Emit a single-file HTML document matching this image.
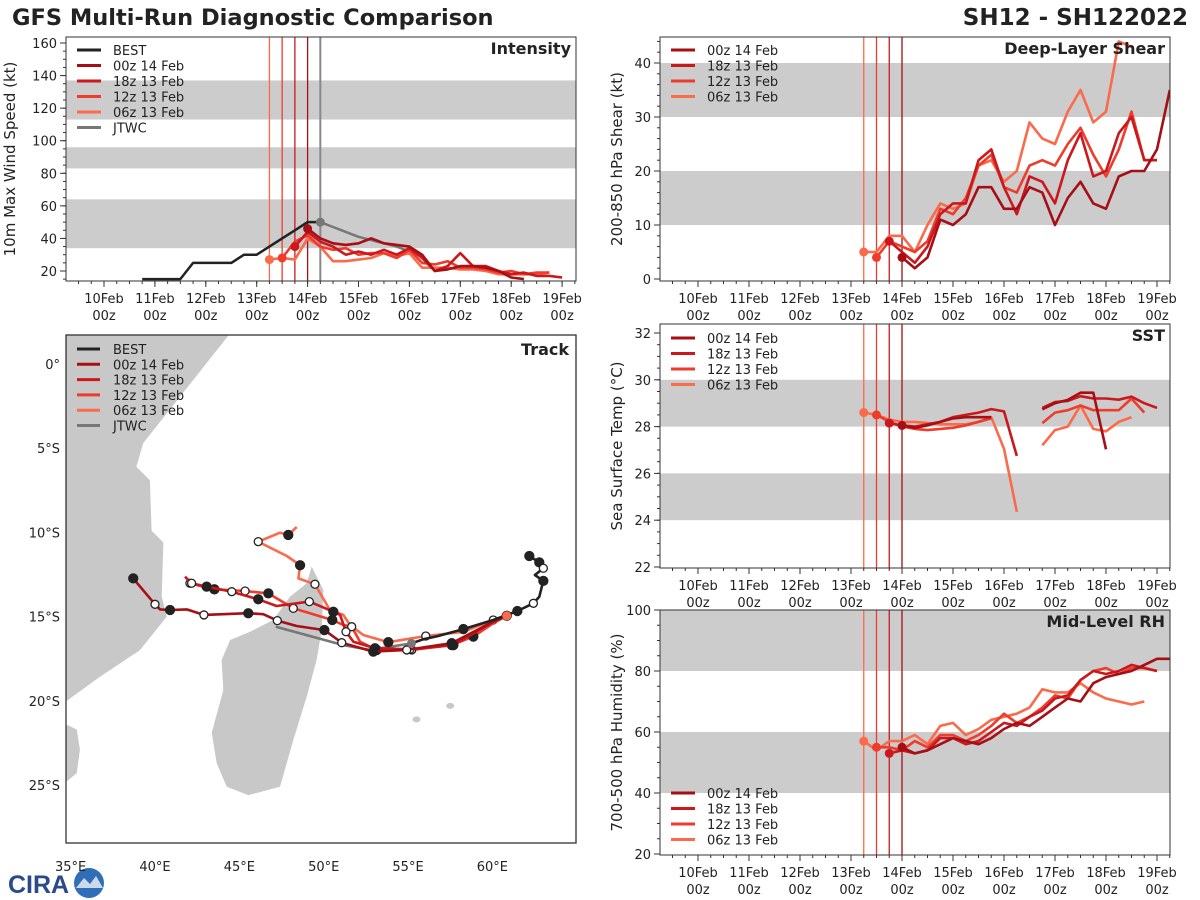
<!DOCTYPE html>
<html><head><meta charset="utf-8"><style>
html,body{margin:0;padding:0;background:#fff;}
svg{display:block;font-family:"DejaVu Sans","Liberation Sans",sans-serif;}
</style></head><body>
<svg id="fig" width="1200" height="900" viewBox="0 0 1200 900" xmlns="http://www.w3.org/2000/svg">
<text x="12" y="25" font-size="22.5" font-weight="bold" fill="#222">GFS Multi-Run Diagnostic Comparison</text>
<text x="1188" y="25" font-size="23" font-weight="bold" fill="#222" text-anchor="end">SH12 - SH122022</text>
<g>
<text x="8" y="893" font-size="25" font-weight="bold" fill="#2a4a8a" font-family="Liberation Sans, sans-serif">CIRA</text>
<circle cx="89" cy="883" r="15" fill="#2e6fb8"/>
<path d="M76 888 L84 878 L90 884 L96 876 L103 888 Z" fill="#cfd8ea"/>
</g>
</svg>
<script>
const NS='http://www.w3.org/2000/svg';
const svg=document.getElementById('fig');
function mk(tag,attrs,parent){const e=document.createElementNS(NS,tag);for(const k in attrs)e.setAttribute(k,attrs[k]);(parent||svg).appendChild(e);return e;}

// ---------- DATA ----------
const runNames=['00z 14 Feb','18z 13 Feb','12z 13 Feb','06z 13 Feb'];
const runColors=['#a50f15','#cb181d','#ef3b2c','#fb6a4a'];
const runStarts=[14.0,13.75,13.5,13.25];
const dayTicks=['10Feb','11Feb','12Feb','13Feb','14Feb','15Feb','16Feb','17Feb','18Feb','19Feb'];

const bestStart=10.75;
const bestVmax=[15,15,15,15,25,25,25,25,30,30,35,40,45,50,50];
const jtwcStart=14.25;
const jtwcVmax=[50,47,44,41,39,37,35,32,30];
const vmax00z14=[46,40,37,36,37,40,37,36,35,30,20,21,23,23,22,20,16,15];
const vmax18z13=[35,44,38,35,30,32,30,33,30,34,28,20,23,31,23,23,20,18,19,17,17,16];
const vmax12z13=[28,38,42,35,33,34,30,31,31,28,33,25,24,26,22,22,21,19,20,18,19,19];
const vmax06z13=[27,28,27,40,35,26,26,27,28,31,29,31,22,22,22,21,21,20,18,18,18,18,19];

const shear00z14=[4,2,4,11,10,12,17,17,13,13,17,16,10,15,18,14,13,19,20,20,24,35];
const shear18z13=[7,5,3,6,12,14,14,22,24,17,12,19,18,14,22,27,19,20,27,30,22,22];
const shear12z13=[4,7,6,5,7,13,12,15,21,23,17,16,21,22,21,25,28,23,19,24,31,22,22];
const shear06z13=[5,5,8,8,5,10,14,13,14,21,22,18,20,29,26,25,31,35,29,31,44,43];

const sst00z14=[28.05,27.95,28.05,28.2,28.35,28.4,28.4,28.4,null,null,null,28.74,29.0,29.14,29.45,29.45,27.03];
const sst18z13=[28.15,28.05,28.0,28.1,28.2,28.4,28.5,28.6,28.75,28.65,26.75,null,28.8,29.05,29.1,29.3,29.2,29.2,29.15,29.28,29.0,28.8];
const sst12z13=[28.5,28.2,28.0,27.9,27.85,27.9,27.95,28.05,28.2,28.35,null,null,null,28.15,28.6,28.7,28.9,28.7,28.7,28.7,29.2,28.6];
const sst06z13=[28.6,28.5,28.3,28.2,28.2,28.15,28.1,28.1,28.1,28.2,28.4,27.05,24.36,null,27.2,27.85,28.0,28.9,27.9,27.8,28.2,28.4];

const rh00z14=[55,53,54,56,58,57,56,58,61,63,62,65,68,71,70,76,78,79,80,82,84,84,81].slice(0,21).concat([84,81]).slice(0,22);
const rh18z13=[53,54,53,54,58,58,56,57,60,63,62,65,67,71,72,77,80,79,80,82,81,80];
const rh12z13=[55,55,54,57,55,59,59,57,59,62,66,63,65,68,72,71,77,80,81,79,81,81,80];
const rh06z13=[57,54,57,57,59,56,62,63,59,61,64,65,66,68,74,73,73,76,73,71,70,69,70];

const bestLon=[62.19,62.78,63.02,62.52,63.02,62.78,62.43,61.48,60.05,58.28,56.79,55.9,55.2];
const bestLat=[-11.40,-11.78,-12.13,-12.53,-12.88,-13.82,-14.21,-14.67,-15.20,-15.74,-16.15,-16.35,-16.59];
const bestMk=['f','f','o','','f','','o','f','','f','','',''];
const jtwcLon=[55.2,52.74,51.16,47.16];
const jtwcLat=[-16.59,-16.98,-16.69,-15.6];
const trk00Lon=[60.85,59.86,57.59,54.92,52.94,51.07,50.04,48.40,47.25,46.42,45.53,42.90,41.88,40.89,40.30,40.0,38.71];
const trk00Lat=[-14.95,-15.40,-16.58,-16.98,-17.08,-16.55,-15.80,-15.56,-15.24,-14.86,-14.80,-14.90,-14.57,-14.61,-14.57,-14.27,-12.73];
const trk00Mk=['','','f','o','f','o','f','','o','','f','o','','f','','o','f'];
const trk18Lon=[60.85,60.05,57.69,55.12,53.04,51.76,51.32,50.97,50.57,49.15,47.21,46.12,44.55,43.06,42.17,41.78];
const trk18Lat=[-14.95,-15.30,-16.69,-16.94,-16.88,-16.49,-15.90,-14.90,-14.71,-14.11,-14.37,-13.97,-13.52,-13.22,-13.02,-12.63];
const trk18Mk=['','','f','o','f','','o','','f','o','','f','o','f','o',''];
const trk12Lon=[60.85,60.05,58.87,57.59,55.22,53.14,52.15,51.66,51.16,50.51,48.20,46.72,45.34,43.52,42.07];
const trk12Lat=[-14.95,-15.40,-16.19,-16.69,-16.98,-16.98,-16.49,-15.60,-15.50,-15.20,-14.51,-13.62,-13.48,-13.38,-13.02];
const trk12Mk=['','','f','f','o','f','','o','','f','o','f','o','f','o'];
const trk06Lon=[60.85,60.05,58.28,56.05,53.83,52.35,51.56,51.16,50.37,49.48,48.50,48.60,47.81,46.12,47.41,47.90,48.40];
const trk06Lat=[-14.95,-15.20,-15.90,-16.15,-16.52,-16.09,-15.50,-14.90,-14.61,-13.08,-12.73,-11.95,-11.40,-10.55,-10.02,-10.15,-9.68];
const trk06Mk=['f','o','','o','f','','','','','o','','f','','o','','f',''];

const africaLon=[34.5,44.6,39.3,38.9,39.7,39.8,40.5,40.4,40.7,39.1,36.7,34.5];
const africaLat=[2.0,2.0,-4.7,-6.1,-6.9,-9.9,-10.6,-13.8,-15.0,-17.0,-18.6,-20.2];
const mozLon=[34.5,35.36,35.55,35.36,34.5];
const mozLat=[-21.3,-21.7,-22.9,-24.3,-25.0];
const madLon=[49.29,49.98,49.88,49.58,48.99,48.2,47.41,45.53,44.25,43.66,43.36,44.05,43.95,44.45,45.63,47.01,48.0,48.99];
const madLat=[-12.04,-13.42,-15.8,-17.58,-19.76,-22.33,-25.1,-25.6,-25.1,-23.7,-21.9,-19.36,-17.58,-16.39,-15.9,-15.2,-13.82,-13.02];
const islandLon=[55.5,57.5];
const islandLat=[-21.1,-20.3];

// ---------- TIME PANELS ----------
function timePanel(cfg){
  const g=mk('g',{});
  
  
  const X=d=>cfg.xd0+(d-10)*cfg.xs;
  const Y=cfg.Y;
  const defs=mk('defs',{},g);
  const cp=mk('clipPath',{id:cfg.name+'-clip'},defs);
  mk('rect',{x:cfg.x0,y:cfg.y0,width:cfg.x1-cfg.x0,height:cfg.y1-cfg.y0},cp);
  const pg=mk('g',{'clip-path':'url(#'+cfg.name+'-clip)'},g);
  for(const b of cfg.bands){
    const r=mk('rect',{x:cfg.x0,y:Y(b[1]),width:cfg.x1-cfg.x0,height:Y(b[0])-Y(b[1]),fill:'#cccccc'},pg);
    
    
  }
  for(let i=3;i>=0;i--){
    const l=mk('line',{x1:X(runStarts[i]),x2:X(runStarts[i]),y1:cfg.y0,y2:cfg.y1,stroke:runColors[i],'stroke-width':1.3},pg);
    
    
  }
  if(cfg.jtwc){
    const l=mk('line',{x1:X(jtwcStart),x2:X(jtwcStart),y1:cfg.y0,y2:cfg.y1,stroke:'#888','stroke-width':2},pg);
    
    
  }
  const series=cfg.series;
  function drawLine(start,vals,color,w,nm){
    let d='';let pen=false;
    vals.forEach((v,i)=>{if(v===null){pen=false;return;}d+=(pen?'L':'M')+X(start+i*0.25).toFixed(1)+' '+Y(v).toFixed(1)+' ';pen=true;});
    const p=mk('path',{d:d,fill:'none',stroke:color,'stroke-width':w,'stroke-linejoin':'round'},pg);
    
    
  }
  if(cfg.best){drawLine(bestStart,bestVmax,'#222',2.5,'best-line');}
  if(cfg.jtwc){drawLine(jtwcStart,jtwcVmax,'#777',2.5,'jtwc-line');
    const c=mk('circle',{cx:X(jtwcStart),cy:Y(jtwcVmax[0]),r:4.5,fill:'#777'},pg);
    
    }
  for(let i=3;i>=0;i--){drawLine(runStarts[i],series[i],runColors[i],2.6,'series-'+runNames[i].replace(/ /g,'-').toLowerCase());}
  for(let i=3;i>=0;i--){
    const c=mk('circle',{cx:X(runStarts[i]),cy:Y(series[i][0]),r:4.5,fill:runColors[i]},pg);
    
    
  }
  mk('rect',{x:cfg.x0,y:cfg.y0,width:cfg.x1-cfg.x0,height:cfg.y1-cfg.y0,fill:'none',stroke:'#333','stroke-width':1},g);
  for(let v=cfg.ymin;v<=cfg.ymax+1e-6;v+=cfg.minor){
    mk('line',{x1:cfg.x0-3,x2:cfg.x0,y1:Y(v),y2:Y(v),stroke:'#333'},g);
  }
  cfg.yticks.forEach(v=>{
    mk('line',{x1:cfg.x0-6,x2:cfg.x0,y1:Y(v),y2:Y(v),stroke:'#333'},g);
    const t=mk('text',{x:cfg.x0-9,y:Y(v)+5,'font-size':13,'text-anchor':'end',fill:'#222'},g);
    t.textContent=v;
    
    
  });
  for(let d=9.5;d<=19.3;d+=0.25){const x=X(d);if(x<cfg.x0||x>cfg.x1)continue;
    mk('line',{x1:x,x2:x,y1:cfg.y1,y2:cfg.y1+3,stroke:'#333'},g);}
  dayTicks.forEach((lab,i)=>{const x=X(10+i);
    mk('line',{x1:x,x2:x,y1:cfg.y1,y2:cfg.y1+6,stroke:'#333'},g);
    const t=mk('text',{x:x,y:cfg.y1+22,'font-size':13,'text-anchor':'middle',fill:'#222'},g);
    t.textContent=lab;
    
    
    const t2=mk('text',{x:x,y:cfg.y1+39,'font-size':13,'text-anchor':'middle',fill:'#222'},g);
    t2.textContent='00z';
  });
  const yt=mk('text',{transform:`translate(${cfg.ytx},${(cfg.y0+cfg.y1)/2}) rotate(-90)`,'font-size':15,'text-anchor':'middle',fill:'#222'},g);
  yt.textContent=cfg.ylabel;
  
  
  const tt=mk('text',{x:cfg.x1-5,y:cfg.y0+17,'font-size':16,'font-weight':'bold','text-anchor':'end',fill:'#222'},g);
  tt.textContent=cfg.title;
  
  
  const entries=[];
  if(cfg.best)entries.push(['BEST','#222']);
  for(let i=0;i<4;i++)entries.push([runNames[i],runColors[i]]);
  if(cfg.jtwc)entries.push(['JTWC','#777']);
  entries.forEach((e,i)=>{
    const ly=cfg.legY+i*15.5;
    const lg=mk('g',{},g);
    
    
    mk('line',{x1:cfg.x0+11,x2:cfg.x0+35,y1:ly,y2:ly,stroke:e[1],'stroke-width':3},lg);
    const t=mk('text',{x:cfg.x0+47,y:ly+5,'font-size':13,fill:'#222'},lg);
    t.textContent=e[0];
  });
}

timePanel({name:'intensity-panel',title:'Intensity',x0:66,x1:576,y0:37,y1:281,xd0:104,xs:50.9,
  Y:v=>271-(v-20)*1.6286,ymin:15,ymax:160,minor:5,yticks:[20,40,60,80,100,120,140,160],
  bands:[[34,64],[83,96],[113,137]],series:[vmax00z14,vmax18z13,vmax12z13,vmax06z13],
  best:true,jtwc:true,ylabel:'10m Max Wind Speed (kt)',ytx:15,legY:50});
timePanel({name:'shear-panel',title:'Deep-Layer Shear',x0:660,x1:1170,y0:37,y1:281,xd0:698,xs:51,
  Y:v=>279-v*5.4,ymin:0,ymax:44,minor:2,yticks:[0,10,20,30,40],
  bands:[[10,20],[30,40]],series:[shear00z14,shear18z13,shear12z13,shear06z13],
  ylabel:'200-850 hPa Shear (kt)',ytx:622,legY:50});
timePanel({name:'sst-panel',title:'SST',x0:660,x1:1170,y0:324,y1:568,xd0:698,xs:51,
  Y:v=>333+(32-v)*23.4,ymin:22,ymax:32,minor:0.5,yticks:[22,24,26,28,30,32],
  bands:[[24,26],[28,30]],series:[sst00z14,sst18z13,sst12z13,sst06z13],
  ylabel:'Sea Surface Temp (°C)',ytx:622,legY:338});
timePanel({name:'rh-panel',title:'Mid-Level RH',x0:660,x1:1170,y0:610,y1:855,xd0:698,xs:51,
  Y:v=>610+(100-v)*3.05,ymin:20,ymax:100,minor:5,yticks:[20,40,60,80,100],
  bands:[[40,60],[80,100]],series:[rh00z14,rh18z13,rh12z13,rh06z13],
  ylabel:'700-500 hPa Humidity (%)',ytx:622,legY:793});

// ---------- TRACK MAP ----------
(function(){
  const g=mk('g',{});
  
  
  const X=lon=>155+(lon-40)*16.87, Y=lat=>364-lat*16.84;
  const defs=mk('defs',{},g);
  const cp=mk('clipPath',{id:'mapclip'},defs);
  mk('rect',{x:66,y:335,width:510,height:508},cp);
  const inner=mk('g',{'clip-path':'url(#mapclip)'},g);
  function poly(lons,lats,nm){
    const p=mk('polygon',{points:lons.map((l,i)=>X(l).toFixed(1)+','+Y(lats[i]).toFixed(1)).join(' '),fill:'#c8c8c8'},inner);
    
    
  }
  poly(africaLon,africaLat,'africa-land');
  poly(mozLon,mozLat,'mozambique-land');
  poly(madLon,madLat,'madagascar-land');
  islandLon.forEach((l,i)=>{const c=mk('ellipse',{cx:X(l),cy:Y(islandLat[i]),rx:4,ry:3,fill:'#c8c8c8'},inner);
    
    });
  function track(lons,lats,mks,color,nm){
    const p=mk('polyline',{points:lons.map((l,i)=>X(l).toFixed(1)+','+Y(lats[i]).toFixed(1)).join(' '),fill:'none',stroke:color,'stroke-width':2.6,'stroke-linejoin':'round'},inner);
    
    
    if(mks)mks.forEach((m,i)=>{if(!m)return;
      const c=mk('circle',{cx:X(lons[i]),cy:Y(lats[i]),r:m==='f'?4.5:4,fill:m==='f'?'#222':'#fff',stroke:'#222','stroke-width':1.3},inner);
      
      });
  }
  track(jtwcLon,jtwcLat,null,'#777','jtwc-track');
  track(trk06Lon,trk06Lat,trk06Mk,runColors[3],'track-06z-13-feb');
  track(trk12Lon,trk12Lat,trk12Mk,runColors[2],'track-12z-13-feb');
  track(trk18Lon,trk18Lat,trk18Mk,runColors[1],'track-18z-13-feb');
  track(trk00Lon,trk00Lat,trk00Mk,runColors[0],'track-00z-14-feb');
  track(bestLon,bestLat,bestMk,'#222','best-track');
  const cur=mk('circle',{cx:X(60.85),cy:Y(-14.95),r:4.5,fill:runColors[3]},inner);
  
  
  mk('circle',{cx:X(55.2),cy:Y(-16.59),r:4.5,fill:'#777'},inner);
  mk('rect',{x:66,y:335,width:510,height:508,fill:'none',stroke:'#333','stroke-width':1.3},g);
  [0,-5,-10,-15,-20,-25].forEach(la=>{
    const t=mk('text',{x:60,y:Y(la)+5,'font-size':13,'text-anchor':'end',fill:'#222'},g);
    t.textContent=la===0?'0°':(-la)+'°S';
    
    
  });
  [35,40,45,50,55,60].forEach(lo=>{
    const t=mk('text',{x:X(lo),y:871,'font-size':13,'text-anchor':'middle',fill:'#222'},g);
    t.textContent=lo+'°E';
    
    
  });
  const tt=mk('text',{x:569,y:355,'font-size':16,'font-weight':'bold','text-anchor':'end',fill:'#222'},g);
  tt.textContent='Track';
  
  
  const ent=[['BEST','#222']].concat(runNames.map((n,i)=>[n,runColors[i]])).concat([['JTWC','#777']]);
  ent.forEach((e,i)=>{const ly=349+i*15.3;
    const lg=mk('g',{},g);
    
    
    mk('line',{x1:77,x2:100,y1:ly,y2:ly,stroke:e[1],'stroke-width':3},lg);
    const t=mk('text',{x:113,y:ly+5,'font-size':13,fill:'#222'},lg);t.textContent=e[0];});
})();
</script>
</body></html>
